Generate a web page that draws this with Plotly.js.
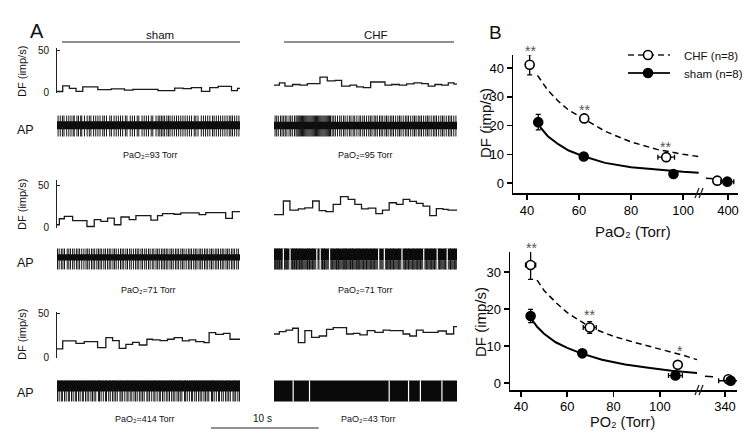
<!DOCTYPE html>
<html><head><meta charset="utf-8">
<script src="https://cdn.plot.ly/plotly-3.0.1.min.js"></script>
<style>html,body{margin:0;padding:0;background:#fff}#chart{width:750px;height:440px}</style>
</head><body><div id="chart"></div>
<script>
// ---------------- Panel A data ----------------
const traceDur = 17.0;            // seconds per recording segment
const scaleBarSec = 10;           // "10 s" scale bar
// DF (imp/s) step traces: bin edges (s) and values
const dfShamR1T = [0,0.53,1.15,1.77,2.39,3.79,5.03,6.27,7.05,9.38,10.93,11.71,12.48,13.42,14.19,14.97,16.21,16.77,17.0];
const dfShamR1V = [0.8,7.5,4.5,1,6.4,3,3.8,2.3,3.4,1.9,4.9,4.1,5.3,1,5.3,6.8,1.9,4.5];
const dfChfR1T = [0,0.5,1.02,1.73,2.41,3.1,4.27,4.95,5.67,6.28,7.06,7.68,8.3,8.98,10.31,10.93,11.64,12.32,13.0,13.72,14.33,14.95,15.57,16.19,16.72,17.0];
const dfChfR1V = [8.3,11,7.2,9.1,8.3,10.2,17.8,13.3,14,7.2,8.3,6.4,5.3,12.1,8.3,9.1,8.3,9.8,11,10.2,7.2,9.1,8.3,11,9.5];
const dfShamR2T = [0,0.22,0.68,1.45,2.78,3.46,4.08,4.7,5.32,5.94,6.71,7.33,8.72,9.34,9.8,10.88,11.5,13.2,13.82,15.67,16.29,17.0];
const dfShamR2V = [2.9,10.2,13.1,7.8,0.8,9,7,11,2.9,12.3,9,13.9,8.6,13.9,16.4,15.6,17.2,15.2,17.6,10.7,18.9];
const dfChfR2T = [0,0.87,1.48,2.26,2.87,3.59,4.2,4.82,5.5,6.18,6.89,7.51,8.13,8.75,9.46,10.08,10.7,11.38,11.99,12.61,13.23,13.85,14.47,15.08,15.7,16.17,17.0];
const dfChfR2V = [15.2,31.6,20.5,22.1,23.4,31.6,20.1,18.9,27.5,36.9,33.6,27.5,22.1,23,16.4,20.5,29.5,27.5,33.6,31.1,28.7,25.4,13.9,22.5,21.5,20.5];
const dfShamR3T = [0,0.53,1.76,2.53,3.77,4.54,5.16,5.78,6.4,7.02,7.64,8.35,8.87,9.58,10.26,10.88,11.65,12.27,12.89,13.66,14.13,14.74,15.46,16.07,17.0];
const dfShamR3V = [9.5,18.6,15.9,17.8,11,22.3,18.9,10.2,14.8,17,14,20.5,19.7,18.9,20.5,22.3,18.6,19.7,17.8,16.7,28,26.1,27.3,20.5];
const dfChfR3T = [0,0.49,1.11,1.73,2.26,2.87,3.49,4.2,4.88,5.5,6.74,7.36,7.98,8.66,9.37,10.14,10.76,11.99,12.61,13.23,13.85,14.62,15.24,16.01,16.69,17.0];
const dfChfR3V = [26.5,29.2,31,33,16.7,30.3,22.7,24.2,31.8,33.7,26.5,27.3,25.4,30.3,28.4,31,30.3,26.5,24.2,31,28.4,28.4,29.9,26.5,34.8];

// AP spike times (s)
const apShamR1 = [0.1,0.3,0.5,0.65,0.9,1.1,1.3,1.5,1.6,1.85,2.0,2.2,2.3,2.55,2.8,3.0,3.15,3.4,3.6,3.8,4.0,4.25,4.4,4.6,4.9,5.05,5.3,5.5,5.7,5.9,6.1,6.35,6.5,6.8,7.0,7.2,7.45,7.6,7.9,8.1,8.3,8.5,8.75,8.9,9.2,9.4,9.55,9.7,9.85,10.0,10.2,10.35,10.5,10.7,10.9,11.1,11.3,11.5,11.7,11.9,12.1,12.3,12.5,12.75,12.9,13.1,13.4,13.6,13.8,14.0,14.2,14.45,14.6,14.8,15.0,15.2,15.4,15.6,15.8,16.0,16.15,16.3,16.5,16.7,16.9];
const apChfR1 = [0.1,0.25,0.4,0.6,0.75,0.9,1.05,1.2,1.4,1.55,1.7,1.9,2.05,2.15,2.25,2.35,2.45,2.55,2.65,2.75,2.85,2.95,3.05,3.15,3.25,3.35,3.45,3.55,3.65,3.75,3.85,3.95,4.05,4.15,4.25,4.35,4.45,4.55,4.65,4.75,4.85,4.95,5.05,5.15,5.25,5.4,5.55,5.7,5.9,6.1,6.25,6.45,6.6,6.8,7.0,7.15,7.35,7.5,7.7,7.9,8.05,8.25,8.4,8.6,8.8,8.95,9.1,9.3,9.45,9.6,9.8,9.95,10.1,10.3,10.45,10.6,10.8,10.95,11.1,11.3,11.5,11.65,11.8,12.0,12.2,12.35,12.5,12.7,12.9,13.05,13.2,13.4,13.55,13.7,13.9,14.1,14.25,14.4,14.6,14.8,14.95,15.1,15.3,15.5,15.65,15.8,16.0,16.2,16.35,16.5,16.7,16.9];
const apShamR2 = [0.05,0.2,0.4,0.55,0.7,0.95,1.1,1.25,1.45,1.6,1.8,1.95,2.1,2.3,2.5,2.7,2.85,3.0,3.2,3.35,3.5,3.7,3.85,4.0,4.15,4.35,4.5,4.7,4.85,5.0,5.2,5.35,5.5,5.7,5.9,6.05,6.2,6.4,6.55,6.75,6.9,7.1,7.3,7.45,7.6,7.8,7.95,8.15,8.3,8.5,8.65,8.85,9.0,9.2,9.35,9.5,9.7,9.85,10.0,10.15,10.3,10.5,10.65,10.8,11.0,11.15,11.3,11.5,11.65,11.8,12.0,12.2,12.35,12.5,12.7,12.85,13.0,13.2,13.35,13.5,13.7,13.85,14.0,14.2,14.35,14.5,14.7,14.85,15.0,15.2,15.35,15.5,15.7,15.85,16.0,16.2,16.35,16.5,16.7,16.85];
const apChfR2 = [0.1,0.3,0.5,0.7,1.0,1.2,1.7,1.9,2.1,2.4,2.6,3.1,3.3,3.6,4.5,4.7,5.4,5.8,6.0,6.5,6.7,7.1,7.3,7.7,7.9,8.3,8.6,9.0,9.3,10.5,10.8,11.1,11.6,12.2,12.5,12.9,13.3,13.6,14.2,14.6,14.9,15.4,15.9,16.4,16.8];
const apShamR3 = [0.05,0.2,0.4,0.5,0.7,0.85,1.05,1.15,1.35,1.5,1.7,1.8,2.0,2.15,2.35,2.45,2.65,2.8,2.95,3.15,3.3,3.45,3.6,3.85,3.95,4.1,4.3,4.5,4.6,4.8,4.95,5.15,5.3,5.45,5.6,5.85,5.95,6.1,6.3,6.5,6.6,6.8,6.95,7.15,7.3,7.45,7.65,7.8,7.95,8.1,8.35,8.45,8.6,8.8,9.0,9.1,9.3,9.5,9.6,9.8,9.95,10.15,10.3,10.45,10.65,10.8,10.95,11.15,11.3,11.45,11.6,11.85,11.95,12.1,12.3,12.5,12.6,12.8,12.95,13.15,13.3,13.45,13.65,13.8,13.95,14.1,14.35,14.45,14.6,14.8,15.0,15.1,15.3,15.45,15.65,15.8,15.95,16.1,16.35,16.45,16.6,16.8,16.95];
const apChfR3 = [];
// AP white gaps (s) in the dense CHF recordings
const apGapChfR2 = [0.87,1.49,3.98,4.29,5.16,9.72,10.25,11.89,13.91,15.16,16.09];
const apGapChfR3 = [1.78,3.3,10.7,12.5,13.6,15.6];
// AP amplitudes (a.u.), order: sham1, chf1, sham2, chf2, sham3, chf3
const apBandLo  = [-0.32,-0.3,-0.15,-0.15,-0.05,-1.0];
const apBandHi  = [0.45,0.4,0.45,1.0,1.0,1.0];
const apShadeLo = [null,null,null,-1.0,null,null];
const apSpikeLo = [-1,-1,-1,-1,-1,-1];
const apSpikeHi = [1,1,1,1,1,1];

// ---------------- Panel B data ----------------
// top: PaO2 (Torr) vs DF
const bTopChfX = [41.0,62.0,93.5], bTopChfY = [41.2,22.5,9.0], bTopChfYErr = [3.5,1.2,0.8], bTopChfXErr = [0.6,0.8,3.2];
const bTopShamX = [44.3,61.8,96.3], bTopShamY = [21.2,9.2,3.1], bTopShamYErr = [2.7,0.8,0.6], bTopShamXErr = [0.6,1.0,1.2];
const bTopChfHiX = [389.3], bTopChfHiY = [0.8], bTopChfHiXErr = [1.5];
const bTopShamHiX = [399.3], bTopShamHiY = [0.45], bTopShamHiXErr = [6.5];
const bTopChfFitX = [44,48,52,56,62,70,80,90,100,106];
const bTopChfFitY = [37.5,32.3,28.5,25.4,22.3,18.0,14.3,11.7,10.0,9.2];
const bTopShamFitX = [45,48,52,56,62,70,80,90,100,106];
const bTopShamFitY = [19.5,16.3,13.5,11.3,9.2,7.0,5.5,4.6,3.9,3.6];
const bTopChfTailX = [378,386], bTopChfTailY = [1.6,1.5];
const bTopStarX = [41.5,62.0,93.2], bTopStarY = [47.5,26.8,14.0], bTopStarTxt = ['**','**','**'];
// bottom: PO2 (Torr) vs DF
const bBotChfX = [44.2,69.7,107.7], bBotChfY = [31.9,15.0,4.9], bBotChfYErr = [3.9,1.6,0.8], bBotChfXErr = [2.2,2.8,1.0];
const bBotShamX = [44.2,66.5,106.7], bBotShamY = [18.1,8.0,2.0], bBotShamYErr = [1.8,0.5,0.5], bBotShamXErr = [0.8,1.2,3.0];
const bBotChfHiX = [343.3], bBotChfHiY = [1.0], bBotChfHiXErr = [2.0];
const bBotShamHiX = [345.7], bBotShamHiY = [0.6], bBotShamHiXErr = [12];
const bBotChfFitX = [47,50,55,60,70,80,90,100,110,116];
const bBotChfFitY = [27.8,25.0,21.8,19.0,15.0,12.6,10.8,9.2,7.5,6.3];
const bBotShamFitX = [44,47,50,55,60,66,75,85,95,105,116];
const bBotShamFitY = [17.8,15.2,13.3,11.0,9.5,8.0,6.3,5.0,4.1,3.3,2.7];
const bBotChfTailX = [320,328], bBotChfTailY = [1.8,1.7];
const bBotStarX = [44.6,69.4,108.6], bBotStarY = [37.6,19.5,9.6], bBotStarTxt = ['**','**','*'];

// ---------------- Build ----------------
const W = 750, H = 440;
const px = v => v / W, py = v => 1 - v / H;
const FONT = 'Liberation Sans, Arial, Helvetica, sans-serif';
const traces = [];

function stepTrace(edges, vals, xa, ya) {
  traces.push({type:'scatter', mode:'lines', x:edges, y:vals.concat([vals[vals.length-1]]),
    xaxis:xa, yaxis:ya, line:{shape:'hv', color:'#1a1a1a', width:1.3}, hoverinfo:'skip'});
}
function rectTrace(x0, x1, lo, hi, color, xa, ya) {
  traces.push({type:'scatter', mode:'lines', x:[x0,x1,x1,x0,x0], y:[lo,lo,hi,hi,lo], fill:'toself',
    fillcolor:color, line:{width:0, color:color}, xaxis:xa, yaxis:ya, hoverinfo:'skip'});
}
function linesTrace(times, lo, hi, color, w, xa, ya) {
  const x = [], y = [];
  times.forEach(t => { x.push(t, t, null); y.push(lo, hi, null); });
  traces.push({type:'scatter', mode:'lines', x:x, y:y, line:{color:color, width:w}, xaxis:xa, yaxis:ya, hoverinfo:'skip'});
}
function apTrace(i, spikes, gaps, xa, ya) {
  if (apShadeLo[i] !== null) rectTrace(0, traceDur, apShadeLo[i], apBandLo[i], '#4a4a4a', xa, ya);
  rectTrace(0, traceDur, apBandLo[i], apBandHi[i], '#0a0a0a', xa, ya);
  if (spikes.length) linesTrace(spikes, apSpikeLo[i], apSpikeHi[i], '#111', 1, xa, ya);
  if (gaps.length) linesTrace(gaps, apSpikeLo[i], apSpikeHi[i], '#ffffff', 1.2, xa, ya);
}

// Panel A traces (x5 = sham column, x6 = CHF column)
stepTrace(dfShamR1T, dfShamR1V, 'x5', 'y3');
stepTrace(dfChfR1T, dfChfR1V, 'x6', 'y3');
stepTrace(dfShamR2T, dfShamR2V, 'x5', 'y4');
stepTrace(dfChfR2T, dfChfR2V, 'x6', 'y4');
stepTrace(dfShamR3T, dfShamR3V, 'x5', 'y5');
stepTrace(dfChfR3T, dfChfR3V, 'x6', 'y5');
apTrace(0, apShamR1, [], 'x5', 'y6');
apTrace(1, apChfR1, [], 'x6', 'y6');
apTrace(2, apShamR2, [], 'x5', 'y7');
apTrace(3, apChfR2, apGapChfR2, 'x6', 'y7');
apTrace(4, apShamR3, [], 'x5', 'y8');
apTrace(5, apChfR3, apGapChfR3, 'x6', 'y8');

// Panel B traces
function fit(x, y, dash, w, xa, ya) {
  traces.push({type:'scatter', mode:'lines', x:x, y:y, xaxis:xa, yaxis:ya,
    line:{color:'#000', width:w, dash:dash}, hoverinfo:'skip'});
}
function pts(x, y, xe, ye, open, xa, ya) {
  const t = {type:'scatter', mode:'markers', x:x, y:y, xaxis:xa, yaxis:ya,
    marker:{size:9, symbol:'circle', color: open ? '#fff' : '#000', line:{color:'#000', width:1.6}},
    error_x:{type:'data', array:xe, visible:true, color:'#000', thickness:1.3, width:2.5},
    hoverinfo:'skip'};
  if (ye) t.error_y = {type:'data', array:ye, visible:true, color:'#000', thickness:1.3, width:2.5};
  traces.push(t);
}
fit(bTopChfFitX, bTopChfFitY, '6px,4px', 1.5, 'x', 'y');
fit(bTopShamFitX, bTopShamFitY, 'solid', 2, 'x', 'y');
fit(bTopChfTailX, bTopChfTailY, 'solid', 1.5, 'x2', 'y');
pts(bTopShamX, bTopShamY, bTopShamXErr, bTopShamYErr, false, 'x', 'y');
pts(bTopChfX, bTopChfY, bTopChfXErr, bTopChfYErr, true, 'x', 'y');
pts(bTopChfHiX, bTopChfHiY, bTopChfHiXErr, null, true, 'x2', 'y');
pts(bTopShamHiX, bTopShamHiY, bTopShamHiXErr, null, false, 'x2', 'y');

fit(bBotChfFitX, bBotChfFitY, '6px,4px', 1.5, 'x3', 'y2');
fit(bBotShamFitX, bBotShamFitY, 'solid', 2, 'x3', 'y2');
fit(bBotChfTailX, bBotChfTailY, 'solid', 1.5, 'x4', 'y2');
pts(bBotShamX, bBotShamY, bBotShamXErr, bBotShamYErr, false, 'x3', 'y2');
pts(bBotChfX, bBotChfY, bBotChfXErr, bBotChfYErr, true, 'x3', 'y2');
pts(bBotChfHiX, bBotChfHiY, bBotChfHiXErr, null, true, 'x4', 'y2');
pts(bBotShamHiX, bBotShamHiY, bBotShamHiXErr, null, false, 'x4', 'y2');

// Axes
const bAxis = (o) => Object.assign({showline:true, linewidth:1.5, linecolor:'#000', ticks:'outside', ticklen:5,
  tickwidth:1.5, tickcolor:'#000', showgrid:false, zeroline:false, tickfont:{size:13, color:'#000'}, fixedrange:true}, o);
const dfAxis = (dom, rng) => ({domain:dom, range:rng, anchor:'x5', showline:true, linewidth:1, linecolor:'#222',
  ticks:'inside', ticklen:3, tickwidth:1, tickcolor:'#222', tickvals:[0,50], ticktext:['0','50'],
  tickfont:{size:10, color:'#111'}, showgrid:false, zeroline:false, ticklabelstandoff:5});
const apAxis = (dom) => ({domain:dom, range:[-1.05,1.05], anchor:'x5', visible:false});

const layout = {
  width:W, height:H, margin:{l:0,r:0,t:0,b:0}, paper_bgcolor:'#fff', plot_bgcolor:'rgba(0,0,0,0)',
  showlegend:false, font:{family:FONT, color:'#000'},
  xaxis: bAxis({domain:[px(513),px(700)], range:[34.6,106.5], anchor:'y', tickvals:[40,60,80,100]}),
  xaxis2: bAxis({domain:[px(700),px(738)], range:[372,410], anchor:'y', tickvals:[400]}),
  yaxis: bAxis({domain:[py(193),py(55)], range:[-3.5,44.6], anchor:'x', tickvals:[0,10,20,30,40]}),
  xaxis3: bAxis({domain:[px(510),px(700)], range:[35.3,117.3], anchor:'y2', tickvals:[40,60,80,100], ticklabelstandoff:-1}),
  xaxis4: bAxis({domain:[px(700),px(737)], range:[315,352], anchor:'y2', tickvals:[340], ticklabelstandoff:-1}),
  yaxis2: bAxis({domain:[py(390),py(252)], range:[-1.9,35.4], anchor:'x3', tickvals:[0,10,20,30]}),
  xaxis5: {domain:[px(57),px(240)], range:[0,traceDur], anchor:'y3', visible:false},
  xaxis6: {domain:[px(274),px(457)], range:[0,traceDur], anchor:'y3', visible:false},
  yaxis3: dfAxis([py(93),py(48)], [-1,52.5]),
  yaxis4: dfAxis([py(228),py(180)], [-1,57]),
  yaxis5: dfAxis([py(358),py(312)], [-0.8,51.5]),
  yaxis6: apAxis([py(137),py(115)]),
  yaxis7: apAxis([py(270),py(248)]),
  yaxis8: apAxis([py(402),py(380)])
};

// Annotations
const ann = [];
const txt = (x, y, text, size, extra) => ann.push(Object.assign({xref:'paper', yref:'paper', x:px(x), y:py(y), text:text,
  showarrow:false, xanchor:'center', yanchor:'middle', font:{family:FONT, size:size, color:'#111'}}, extra || {}));
txt(37, 31, 'A', 20);
txt(160, 35, 'sham', 11.5);
txt(376, 35, 'CHF', 11.5);
[72, 205, 335].forEach(y => txt(22, y, 'DF (imp/s)', 11, {textangle:-90}));
[130, 263, 393].forEach(y => txt(25, y, 'AP', 12.5));
txt(150, 155, 'PaO₂=93 Torr', 9);
txt(365, 155, 'PaO₂=95 Torr', 9);
txt(148, 290, 'PaO₂=71 Torr', 9);
txt(365, 290, 'PaO₂=71 Torr', 9);
txt(145, 419, 'PaO₂=414 Torr', 9);
txt(368, 419, 'PaO₂=43 Torr', 9);
txt(262, 418, '10 s', 10);
txt(495, 32, 'B', 19);
txt(633, 231, 'PaO₂ (Torr)', 15);
txt(622, 422, 'PO₂ (Torr)', 14.5);
txt(485, 123, 'DF (imp/s)', 15, {textangle:-90});
txt(480, 322, 'DF (imp/s)', 15, {textangle:-90});
txt(682, 56, 'CHF (n=8)', 11.5, {xanchor:'left'});
txt(682, 74, 'sham (n=8)', 11.5, {xanchor:'left'});
// significance stars: x in data units, y as a fraction of the y-axis domain (may exceed the axis top)
function stars(xs, ys, ts, xr, yax, yr) {
  const r = layout[yax].range;
  xs.forEach((x, i) => ann.push({xref:xr, yref:yr + ' domain', x:x, y:(ys[i] - r[0]) / (r[1] - r[0]),
    text:ts[i], showarrow:false, yshift:-4, yanchor:'middle', font:{family:FONT, size:14, color:'#555'}}));
}
stars(bTopStarX, bTopStarY, bTopStarTxt, 'x', 'yaxis', 'y');
stars(bBotStarX, bBotStarY, bBotStarTxt, 'x3', 'yaxis2', 'y2');
layout.annotations = ann;

// Shapes (decorations)
const shp = [];
const ln = (x0, y0, x1, y1, w, dash) => shp.push({type:'line', xref:'paper', yref:'paper', x0:px(x0), y0:py(y0), x1:px(x1), y1:py(y1),
  line:{color:'#222', width:w, dash:dash || 'solid'}});
ln(62, 42, 240, 42, 1);
ln(284, 42, 454, 42, 1);
// scale bar length from the sham time axis
const secPx = (layout.xaxis5.domain[1] - layout.xaxis5.domain[0]) * W / traceDur;
ln(211, 428, 211 + scaleBarSec * secPx, 428, 1.2);
// axis breaks
[[700,193],[700,390]].forEach(([x,y]) => { ln(x-5, y+5, x-1, y-5, 1.3); ln(x-1, y+5, x+3, y-5, 1.3); });
// legend
ln(628, 55, 670, 55, 1.5, '6px,4px');
ln(628, 73, 670, 73, 2);
shp.push({type:'circle', xref:'paper', yref:'paper', x0:px(643.5), x1:px(652.5), y0:py(59.5), y1:py(50.5), fillcolor:'#fff', line:{color:'#000', width:1.6}});
shp.push({type:'circle', xref:'paper', yref:'paper', x0:px(643.5), x1:px(652.5), y0:py(77.5), y1:py(68.5), fillcolor:'#000', line:{color:'#000', width:1.6}});
layout.shapes = shp;

Plotly.newPlot('chart', traces, layout, {staticPlot:true, displayModeBar:false});
</script>
</body></html>
